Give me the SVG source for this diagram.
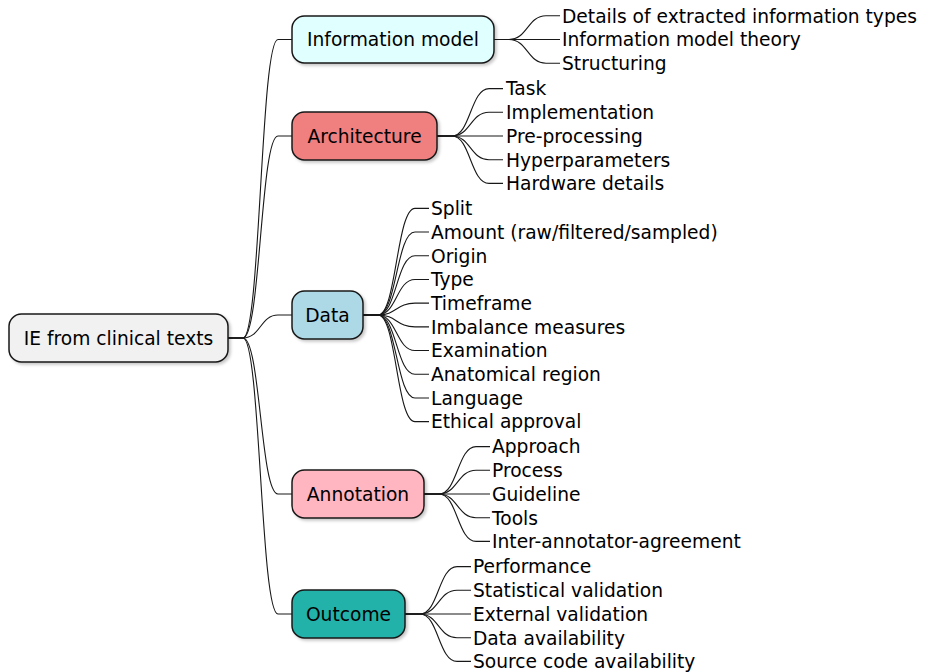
<svg xmlns="http://www.w3.org/2000/svg" width="928" height="672" viewBox="0 0 928 672">
<style>
  text { font-family: "DejaVu Sans", "Liberation Sans", sans-serif; font-size: 18.67px; fill: #000; }
  .box { stroke: #181818; stroke-width: 1.5; filter: url(#sh); }
  .c { text-anchor: middle; }
  .conn path { fill: none; stroke: #181818; stroke-width: 1.1; }
</style>
<defs>
  <filter id="sh" x="-10%" y="-20%" width="130%" height="160%">
    <feDropShadow dx="2" dy="2" stdDeviation="1.5" flood-color="#000" flood-opacity="0.22"/>
  </filter>
</defs>
<rect width="928" height="672" fill="#fff"/>
<g class="conn" id="connectors">
  <!-- root to level 1 -->
  <path d="M228,338 H243 C260.5,338 260.5,39.5 278,39.5 H292"/>
  <path d="M228,338 H243 C260.5,338 260.5,136 278,136 H292"/>
  <path d="M228,338 H243 C260.5,338 260.5,315 278,315 H292"/>
  <path d="M228,338 H243 C260.5,338 260.5,494 278,494 H292"/>
  <path d="M228,338 H243 C260.5,338 260.5,614 278,614 H292"/>
  <!-- Information model leaves (right 494) -->
  <path d="M494,39.5 H509 C527.5,39.5 527.5,15.8 546,15.8 H560"/>
  <path d="M494,39.5 H509 C527.5,39.5 527.5,39.5 546,39.5 H560"/>
  <path d="M494,39.5 H509 C527.5,39.5 527.5,63.2 546,63.2 H560"/>
  <!-- Architecture leaves (right 437) -->
  <path d="M437,136 H452 C470.5,136 470.5,88.6 489,88.6 H503"/>
  <path d="M437,136 H452 C470.5,136 470.5,112.3 489,112.3 H503"/>
  <path d="M437,136 H452 C470.5,136 470.5,136 489,136 H503"/>
  <path d="M437,136 H452 C470.5,136 470.5,159.7 489,159.7 H503"/>
  <path d="M437,136 H452 C470.5,136 470.5,183.4 489,183.4 H503"/>
  <!-- Data leaves (right 363) -->
  <path d="M363,315 H378 C396.5,315 396.5,208.35 415,208.35 H429"/>
  <path d="M363,315 H378 C396.5,315 396.5,232.05 415,232.05 H429"/>
  <path d="M363,315 H378 C396.5,315 396.5,255.75 415,255.75 H429"/>
  <path d="M363,315 H378 C396.5,315 396.5,279.45 415,279.45 H429"/>
  <path d="M363,315 H378 C396.5,315 396.5,303.15 415,303.15 H429"/>
  <path d="M363,315 H378 C396.5,315 396.5,326.85 415,326.85 H429"/>
  <path d="M363,315 H378 C396.5,315 396.5,350.55 415,350.55 H429"/>
  <path d="M363,315 H378 C396.5,315 396.5,374.25 415,374.25 H429"/>
  <path d="M363,315 H378 C396.5,315 396.5,397.95 415,397.95 H429"/>
  <path d="M363,315 H378 C396.5,315 396.5,421.65 415,421.65 H429"/>
  <!-- Annotation leaves (right 424) -->
  <path d="M424,494 H439 C457.5,494 457.5,446.6 476,446.6 H490"/>
  <path d="M424,494 H439 C457.5,494 457.5,470.3 476,470.3 H490"/>
  <path d="M424,494 H439 C457.5,494 457.5,494 476,494 H490"/>
  <path d="M424,494 H439 C457.5,494 457.5,517.7 476,517.7 H490"/>
  <path d="M424,494 H439 C457.5,494 457.5,541.4 476,541.4 H490"/>
  <!-- Outcome leaves (right 405) -->
  <path d="M405,614 H420 C438.5,614 438.5,566.6 457,566.6 H471"/>
  <path d="M405,614 H420 C438.5,614 438.5,590.3 457,590.3 H471"/>
  <path d="M405,614 H420 C438.5,614 438.5,614 457,614 H471"/>
  <path d="M405,614 H420 C438.5,614 438.5,637.7 457,637.7 H471"/>
  <path d="M405,614 H420 C438.5,614 438.5,661.4 457,661.4 H471"/>
</g>
<g id="root">
  <rect class="box" x="9" y="314" width="219" height="48" rx="12.5" fill="#F1F1F1"/>
  <text class="c" x="118.5" y="344.8">IE from clinical texts</text>
</g>
<g id="information-model">
  <rect class="box" x="292" y="16" width="202" height="47" rx="12.5" fill="#E0FFFF"/>
  <text class="c" x="393" y="46.3">Information model</text>
</g>
<g id="architecture">
  <rect class="box" x="292" y="112" width="145" height="48" rx="12.5" fill="#F08080"/>
  <text class="c" x="364.5" y="142.8">Architecture</text>
</g>
<g id="data">
  <rect class="box" x="292" y="291" width="71" height="48" rx="12.5" fill="#ADD8E6"/>
  <text class="c" x="327.5" y="321.8">Data</text>
</g>
<g id="annotation">
  <rect class="box" x="292" y="470" width="132" height="48" rx="12.5" fill="#FFB6C1"/>
  <text class="c" x="358" y="500.8">Annotation</text>
</g>
<g id="outcome">
  <rect class="box" x="292" y="590" width="113" height="48" rx="12.5" fill="#20B2AA"/>
  <text class="c" x="348.5" y="620.8">Outcome</text>
</g>
<g id="info-leaves">
  <text x="562" y="22.6">Details of extracted information types</text>
  <text x="562" y="46.3">Information model theory</text>
  <text x="562" y="70">Structuring</text>
</g>
<g id="arch-leaves">
  <text x="506" y="95.4">Task</text>
  <text x="506" y="119.1">Implementation</text>
  <text x="506" y="142.8">Pre-processing</text>
  <text x="506" y="166.5">Hyperparameters</text>
  <text x="506" y="190.2">Hardware details</text>
</g>
<g id="data-leaves">
  <text x="431" y="215.15">Split</text>
  <text x="431" y="238.85">Amount (raw/filtered/sampled)</text>
  <text x="431" y="262.55">Origin</text>
  <text x="431" y="286.25">Type</text>
  <text x="431" y="309.95">Timeframe</text>
  <text x="431" y="333.65">Imbalance measures</text>
  <text x="431" y="357.35">Examination</text>
  <text x="431" y="381.05">Anatomical region</text>
  <text x="431" y="404.75">Language</text>
  <text x="431" y="428.45">Ethical approval</text>
</g>
<g id="annotation-leaves">
  <text x="492" y="453.4">Approach</text>
  <text x="492" y="477.1">Process</text>
  <text x="492" y="500.8">Guideline</text>
  <text x="492" y="524.5">Tools</text>
  <text x="492" y="548.2">Inter-annotator-agreement</text>
</g>
<g id="outcome-leaves">
  <text x="473" y="573.4">Performance</text>
  <text x="473" y="597.1">Statistical validation</text>
  <text x="473" y="620.8">External validation</text>
  <text x="473" y="644.5">Data availability</text>
  <text x="473" y="668.2">Source code availability</text>
</g>
</svg>
